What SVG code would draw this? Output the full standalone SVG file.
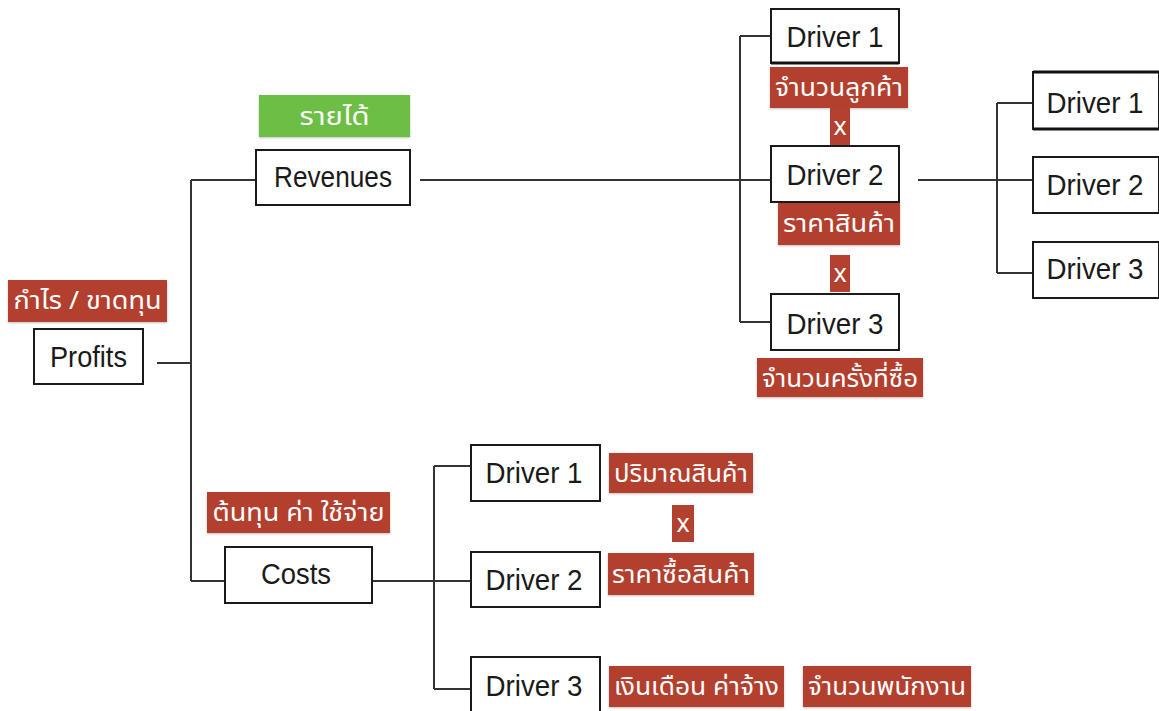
<svg xmlns="http://www.w3.org/2000/svg" width="1159" height="711" viewBox="0 0 1159 711">
  <style>
    .box { fill: #ffffff; stroke: #1a1a1a; stroke-width: 2; }
    .lbl { font-family: "Liberation Sans", Arial, sans-serif; font-size: 30px; fill: #1a1a1a; text-anchor: middle; }
    .tag { fill: #b3412f; }
    .tag-green { fill: #6dbe45; }
    .tagtxt { font-family: "Noto Sans Thai", "Noto Sans", "DejaVu Sans", sans-serif; font-size: 25px; fill: #ffffff; text-anchor: middle; }
    .wire { fill: none; stroke: #333333; stroke-width: 2; }
  </style>
  <defs>
    <filter id="soft" x="-10%" y="-10%" width="120%" height="130%">
      <feDropShadow dx="0" dy="1" stdDeviation="1" flood-color="#000000" flood-opacity="0.25"/>
    </filter>
  </defs>

  <rect width="1159" height="711" fill="#ffffff"/>

  <!-- connectors -->
  <g id="connectors">
    <path class="wire" d="M157,363 H191 M191,180 V581 M191,180 H256 M191,581 H225"/>
    <path class="wire" d="M420,180 H771 M740,36 V322 M740,36 H771 M740,322 H771"/>
    <path class="wire" d="M918,180 H1033 M997,103 V273 M997,103 H1033 M997,273 H1033"/>
    <path class="wire" d="M372,581 H471 M434,466 V689 M434,466 H471 M434,689 H471"/>
  </g>

  <!-- root -->
  <g id="profits">
    <rect class="tag" x="8" y="280" width="159" height="42" filter="url(#soft)"/>
    <text class="tagtxt" x="87.5" y="309" textLength="148" lengthAdjust="spacingAndGlyphs">กำไร / ขาดทุน</text>
    <rect class="box" x="34" y="329" width="109" height="55"/>
    <text class="lbl" x="88.5" y="367" textLength="77" lengthAdjust="spacingAndGlyphs">Profits</text>
  </g>

  <!-- revenues branch -->
  <g id="revenues">
    <rect class="tag-green" x="259" y="95" width="151" height="42" filter="url(#soft)"/>
    <text class="tagtxt" x="334.5" y="125" textLength="70" lengthAdjust="spacingAndGlyphs">รายได้</text>
    <rect class="box" x="256" y="150" width="154" height="55"/>
    <text class="lbl" x="333" y="187" textLength="118" lengthAdjust="spacingAndGlyphs">Revenues</text>
  </g>

  <g id="rev-driver-1">
    <rect class="box" x="771" y="9" width="128" height="54"/>
    <line x1="771" y1="63" x2="899" y2="63" stroke="#111111" stroke-width="3"/>
    <text class="lbl" x="835" y="47" textLength="97" lengthAdjust="spacingAndGlyphs">Driver 1</text>
    <rect class="tag" x="770" y="67" width="138" height="41" filter="url(#soft)"/>
    <text class="tagtxt" x="839" y="96" textLength="128" lengthAdjust="spacingAndGlyphs">จำนวนลูกค้า</text>
    <rect class="tag" x="830" y="108" width="20" height="38"/>
    <text class="tagtxt" x="840" y="135">x</text>
  </g>

  <g id="rev-driver-2">
    <rect class="box" x="771" y="146" width="128" height="56"/>
    <text class="lbl" x="835" y="185" textLength="97" lengthAdjust="spacingAndGlyphs">Driver 2</text>
    <rect class="tag" x="778" y="203" width="122" height="42" filter="url(#soft)"/>
    <text class="tagtxt" x="839" y="232" textLength="112" lengthAdjust="spacingAndGlyphs">ราคาสินค้า</text>
    <rect class="tag" x="830" y="255" width="20" height="37"/>
    <text class="tagtxt" x="840" y="282">x</text>
  </g>

  <g id="rev-driver-3">
    <rect class="box" x="771" y="294" width="128" height="56"/>
    <text class="lbl" x="835" y="334" textLength="97" lengthAdjust="spacingAndGlyphs">Driver 3</text>
    <rect class="tag" x="757" y="358" width="166" height="39" filter="url(#soft)"/>
    <text class="tagtxt" x="840" y="387" textLength="156" lengthAdjust="spacingAndGlyphs">จำนวนครั้งที่ซื้อ</text>
  </g>

  <!-- sub-drivers of revenue driver 2 -->
  <g id="sub-driver-1">
    <rect class="box" x="1033" y="72" width="126" height="57"/>
    <line x1="1033" y1="72" x2="1159" y2="72" stroke="#111111" stroke-width="3"/>
    <line x1="1033" y1="129" x2="1159" y2="129" stroke="#111111" stroke-width="3"/>
    <text class="lbl" x="1095" y="113" textLength="97" lengthAdjust="spacingAndGlyphs">Driver 1</text>
  </g>
  <g id="sub-driver-2">
    <rect class="box" x="1033" y="157" width="126" height="56"/>
    <text class="lbl" x="1095" y="195" textLength="97" lengthAdjust="spacingAndGlyphs">Driver 2</text>
  </g>
  <g id="sub-driver-3">
    <rect class="box" x="1033" y="242" width="126" height="56"/>
    <text class="lbl" x="1095" y="279" textLength="97" lengthAdjust="spacingAndGlyphs">Driver 3</text>
  </g>

  <!-- costs branch -->
  <g id="costs">
    <rect class="tag" x="207" y="492" width="183" height="41" filter="url(#soft)"/>
    <text class="tagtxt" x="298.5" y="521" textLength="172" lengthAdjust="spacingAndGlyphs">ต้นทุน ค่า ใช้จ่าย</text>
    <rect class="box" x="225" y="547" width="147" height="56"/>
    <text class="lbl" x="296" y="584" textLength="70" lengthAdjust="spacingAndGlyphs">Costs</text>
  </g>

  <g id="cost-driver-1">
    <rect class="box" x="471" y="445" width="129" height="56"/>
    <text class="lbl" x="534" y="483" textLength="97" lengthAdjust="spacingAndGlyphs">Driver 1</text>
    <rect class="tag" x="609" y="453" width="144" height="40" filter="url(#soft)"/>
    <text class="tagtxt" x="681" y="482" textLength="134" lengthAdjust="spacingAndGlyphs">ปริมาณสินค้า</text>
    <rect class="tag" x="672" y="505" width="22" height="37"/>
    <text class="tagtxt" x="683" y="532">x</text>
  </g>

  <g id="cost-driver-2">
    <rect class="box" x="471" y="552" width="129" height="55"/>
    <text class="lbl" x="534" y="590" textLength="97" lengthAdjust="spacingAndGlyphs">Driver 2</text>
    <rect class="tag" x="608" y="553" width="146" height="42" filter="url(#soft)"/>
    <text class="tagtxt" x="681" y="583" textLength="138" lengthAdjust="spacingAndGlyphs">ราคาซื้อสินค้า</text>
  </g>

  <g id="cost-driver-3">
    <rect class="box" x="471" y="657" width="129" height="60"/>
    <text class="lbl" x="534" y="696" textLength="97" lengthAdjust="spacingAndGlyphs">Driver 3</text>
    <rect class="tag" x="609" y="666" width="175" height="41" filter="url(#soft)"/>
    <text class="tagtxt" x="696.5" y="695" textLength="165" lengthAdjust="spacingAndGlyphs">เงินเดือน ค่าจ้าง</text>
    <rect class="tag" x="803" y="666" width="168" height="41" filter="url(#soft)"/>
    <text class="tagtxt" x="887" y="695" textLength="158" lengthAdjust="spacingAndGlyphs">จำนวนพนักงาน</text>
  </g>
</svg>
